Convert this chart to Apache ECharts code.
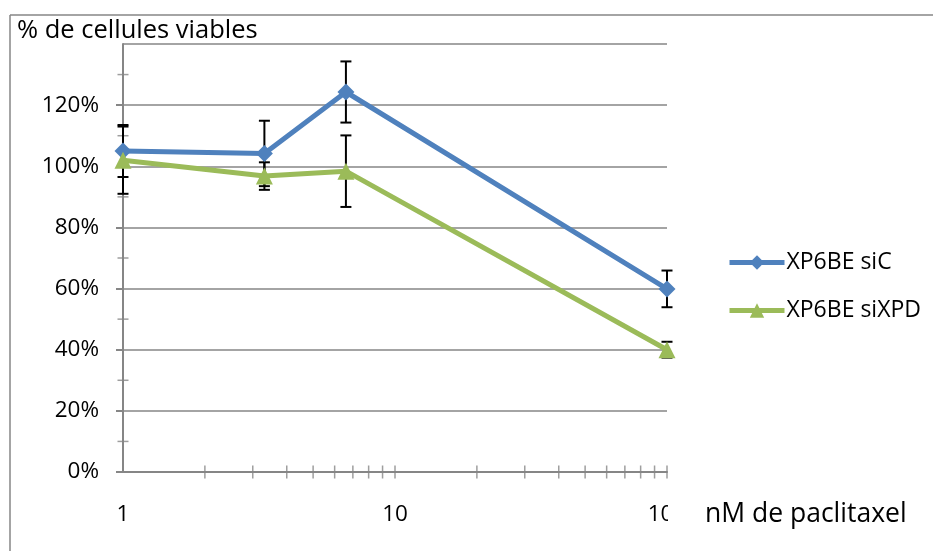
<!DOCTYPE html>
<html><head><meta charset="utf-8">
<script src="https://cdn.jsdelivr.net/npm/echarts@6/dist/echarts.min.js"></script>
<style>html,body{margin:0;padding:0;background:#fff}#c{width:933px;height:551px}</style>
</head><body><div id="c"></div>
<script>
const concentrations = [1, 3.31, 6.6, 100];
const siC = [105, 104.2, 124.3, 59.9];
const siCErr = [8.5, 10.7, 10, 6];
const siXPD = [102, 96.8, 98.4, 40];
const siXPDErr = [11, 4.5, 11.7, 2.6];
const seriesNames = ['XP6BE siC', 'XP6BE siXPD'];
const xTickValues = [2,3,4,5,6,7,8,9,10,20,30,40,50,60,70,80,90,100];
const yMinorTickValues = [10,30,50,70,90,110,130];

const FONT = 'Open Sans';
const GRAY = '#868686';
const BLUE = '#4F81BD';
const GREEN = '#9BBB59';

function pts(vals){ return concentrations.map((c,i)=>[c, vals[i]]); }
function errs(vals, e){ return concentrations.map((c,i)=>[c, vals[i]-e[i], vals[i]+e[i]]); }

function errRender(params, api){
  const x = api.value(0);
  const lo = api.coord([x, api.value(1)]);
  const hi = api.coord([x, api.value(2)]);
  const w = 5.5;
  const st = {stroke:'#000', lineWidth:2};
  return {type:'group', children:[
    {type:'line', shape:{x1:lo[0],y1:lo[1],x2:hi[0],y2:hi[1]}, style:st},
    {type:'line', shape:{x1:lo[0]-w,y1:lo[1],x2:lo[0]+w,y2:lo[1]}, style:st},
    {type:'line', shape:{x1:hi[0]-w,y1:hi[1],x2:hi[0]+w,y2:hi[1]}, style:st}
  ]};
}

const chart = echarts.init(document.getElementById('c'), null, {renderer:'canvas'});
chart.setOption({
  animation:false,
  textStyle:{fontFamily:FONT},
  title:[
    {text:'% de cellules viables', left:17, top:18, padding:0, textStyle:{fontFamily:FONT, fontSize:25.5, fontWeight:'normal', color:'#000'}},
    {text:'nM de paclitaxel', left:705, top:501, padding:0, textStyle:{fontFamily:FONT, fontSize:26.5, fontWeight:'normal', color:'#000'}}
  ],
  legend:{
    orient:'vertical', left:727, top:251, itemWidth:55, itemHeight:18, itemGap:25, padding:0,
    data:seriesNames,
    lineStyle:{width:5},
    textStyle:{fontFamily:FONT, fontSize:23, color:'#000', padding:[0,0,0,-3]}
  },
  grid:{left:123, right:266, top:44, bottom:79, containLabel:false},
  xAxis:{
    type:'log', logBase:10, min:1, max:100,
    axisLine:{show:true, lineStyle:{color:GRAY, width:2}},
    axisTick:{show:false},
    minorTick:{show:false},
    splitLine:{show:false},
    axisLabel:{fontFamily:FONT, fontSize:22.5, color:'#000', margin:31}
  },
  yAxis:{
    type:'value', min:0, max:140, interval:20,
    axisLine:{show:true, lineStyle:{color:GRAY, width:2}},
    axisTick:{show:true, length:7, lineStyle:{color:GRAY, width:2}},
    splitLine:{show:true, lineStyle:{color:GRAY, width:1.5}},
    axisLabel:{formatter:'{value}%', fontFamily:FONT, fontSize:22.5, color:'#000', margin:24,
      showMaxLabel:false}
  },
  series:[
    {name:'xticks', type:'scatter', data:xTickValues.map(v=>[v,0]), symbol:'rect', symbolSize:[1.5,13],
      itemStyle:{color:GRAY}, silent:true, z:1, clip:false},
    {name:'yticks', type:'scatter', data:yMinorTickValues.map(v=>[1,v]), symbol:'rect', symbolSize:[11,1.5],
      itemStyle:{color:GRAY}, silent:true, z:1, clip:false},
    {name:'errC', type:'custom', renderItem:errRender, data:errs(siC, siCErr), encode:{x:0,y:[1,2]}, z:2, silent:true, clip:false},
    {name:'errX', type:'custom', renderItem:errRender, data:errs(siXPD, siXPDErr), encode:{x:0,y:[1,2]}, z:2, silent:true, clip:false},
    {name:seriesNames[0], type:'line', data:pts(siC), symbol:'diamond', symbolSize:17,
      lineStyle:{color:BLUE, width:5}, itemStyle:{color:BLUE}, z:3},
    {name:seriesNames[1], type:'line', data:pts(siXPD), symbol:'triangle', symbolSize:17,
      lineStyle:{color:GREEN, width:5}, itemStyle:{color:GREEN}, z:4}
  ]
});

// frame and clipping of the last x label, positioned from the chart's scale
const pEnd = chart.convertToPixel({xAxisIndex:0, yAxisIndex:0}, [100, 0]);
chart.setOption({
  graphic:[
    {type:'line', shape:{x1:10, y1:15, x2:940, y2:15}, style:{stroke:GRAY, lineWidth:1.5}, z:0},
    {type:'line', shape:{x1:10, y1:15, x2:10, y2:560}, style:{stroke:GRAY, lineWidth:1.5}, z:0},
    {type:'rect', shape:{x:pEnd[0]+1, y:pEnd[1]+20, width:34, height:36}, style:{fill:'#fff'}, z:100}
  ]
});
</script></body></html>
